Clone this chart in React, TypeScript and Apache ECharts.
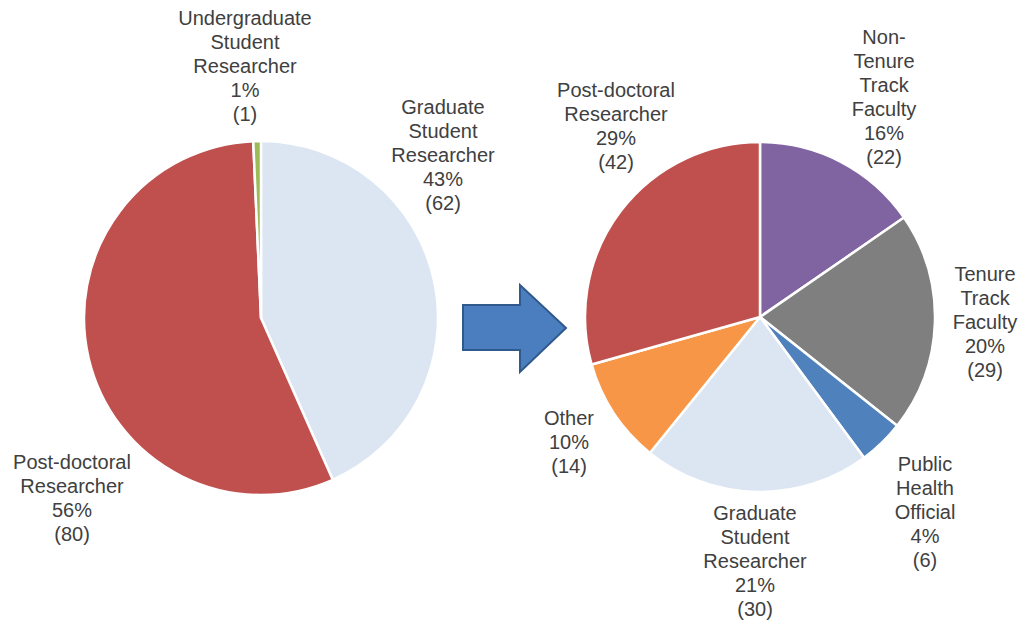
import React, { useEffect, useRef } from "react";
import * as echarts from "echarts";

const leftCategories = [
  "Graduate\nStudent\nResearcher",
  "Post-doctoral\nResearcher",
  "Undergraduate\nStudent\nResearcher",
];
const leftValues = [62, 80, 1];
const leftColors = ["#DCE6F2", "#C0504D", "#9BBB59"];
const leftLabelPos = [
  [443, 155],
  [72, 498],
  [245, 66],
];

const rightCategories = [
  "Non-\nTenure\nTrack\nFaculty",
  "Tenure\nTrack\nFaculty",
  "Public\nHealth\nOfficial",
  "Graduate\nStudent\nResearcher",
  "Other",
  "Post-doctoral\nResearcher",
];
const rightValues = [22, 29, 6, 30, 14, 42];
const rightColors = ["#8064A2", "#7F7F7F", "#4F81BD", "#DCE6F2", "#F79646", "#C0504D"];
const rightLabelPos = [
  [884, 97],
  [985, 322],
  [925, 512],
  [755, 561],
  [569, 442],
  [616, 126],
];

export default function App() {
  const ref = useRef<HTMLDivElement>(null);
  useEffect(() => {
    if (!ref.current) return;
    const chart = echarts.init(ref.current, undefined, { renderer: "svg" });
    const labelStyle = {
      show: true,
      position: "outside" as const,
      formatter: "{b}\n{d}%\n({c})",
      color: "#404040",
      fontSize: 20,
      lineHeight: 24,
      fontFamily: "Liberation Sans, Arial, sans-serif",
      align: "center" as const,
    };
    const makeLayout = (pos: number[][]) => (params: any) => ({
      x: pos[params.dataIndex][0],
      y: pos[params.dataIndex][1],
      align: "center",
      verticalAlign: "middle",
    });
    chart.setOption({
      animation: false,
      backgroundColor: "#ffffff",
      series: [
        {
          type: "pie",
          center: [261, 318],
          radius: 177,
          startAngle: 90,
          clockwise: true,
          percentPrecision: 0,
          avoidLabelOverlap: false,
          data: leftCategories.map((n, i) => ({
            name: n,
            value: leftValues[i],
            itemStyle: { color: leftColors[i] },
          })),
          itemStyle: { borderColor: "#ffffff", borderWidth: 2.5 },
          label: labelStyle,
          labelLine: { show: false },
          labelLayout: makeLayout(leftLabelPos),
          emphasis: { disabled: true },
        },
        {
          type: "pie",
          center: [760, 317],
          radius: 175,
          startAngle: 90,
          clockwise: true,
          percentPrecision: 0,
          avoidLabelOverlap: false,
          data: rightCategories.map((n, i) => ({
            name: n,
            value: rightValues[i],
            itemStyle: { color: rightColors[i] },
          })),
          itemStyle: { borderColor: "#ffffff", borderWidth: 2.5 },
          label: labelStyle,
          labelLine: { show: false },
          labelLayout: makeLayout(rightLabelPos),
          emphasis: { disabled: true },
        },
      ],
      graphic: [
        {
          type: "polygon",
          shape: {
            points: [
              [463, 305],
              [520, 305],
              [520, 285],
              [566, 328],
              [520, 372],
              [520, 350],
              [463, 350],
            ],
          },
          style: { fill: "#4A7EBF", stroke: "#30598C", lineWidth: 2 },
        },
      ],
    });
    return () => chart.dispose();
  }, []);
  return (
    <div
      ref={ref}
      style={{ position: "fixed", left: 0, top: 0, width: 1022, height: 622 }}
    />
  );
}
